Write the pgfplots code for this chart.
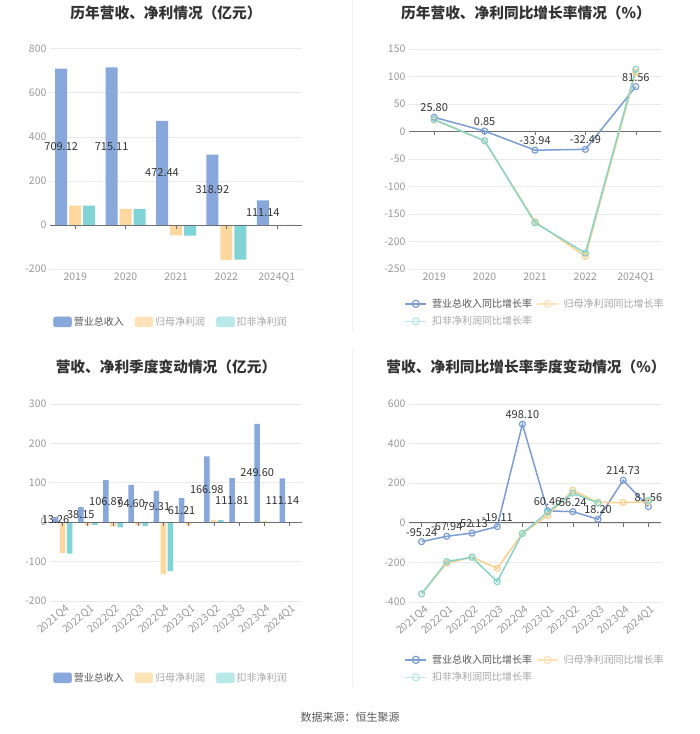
\documentclass[border=0pt]{standalone}
\usepackage{fontspec}
\setmainfont{Noto Sans CJK SC}
\usepackage{pgfplots}
\pgfplotsset{compat=1.18}
\definecolor{rev}{HTML}{88A7DA}
\definecolor{net}{HTML}{FDD89E}
\definecolor{ded}{HTML}{80D4D6}
\definecolor{revL}{HTML}{7B9CD4}
\definecolor{netL}{HTML}{F9CF8C}
\definecolor{dedL}{HTML}{86D5C8}
\definecolor{netP}{HTML}{FFE3B8}
\definecolor{dedP}{HTML}{B8E8E8}
\definecolor{tickc}{HTML}{9A9A9A}
\definecolor{gridc}{HTML}{E9E9E9}
\definecolor{zl}{HTML}{6E7079}
\definecolor{lab}{HTML}{333333}
\definecolor{legA}{HTML}{555555}
\definecolor{legB}{HTML}{A5A5A5}
\pgfplotsset{
  base/.style={
    scale only axis,
    anchor=south west,
    axis line style={draw=none},
    major tick length=0pt,
    ymajorgrids,
    grid style={gridc, line width=0.6pt},
    tick label style={font=\fontsize{10.5}{12}\selectfont, text=tickc},
    /pgf/number format/assume math mode=true,
    clip=false,
    legend cell align=left,
    legend style={draw=none, fill=none, font=\fontsize{10}{12}\selectfont},
    legend image code/.code={\draw[mark repeat=2,mark phase=2,##1] plot coordinates {(0pt,0pt) (10.5pt,0pt) (21pt,0pt)};},
  },
  barleg/.style={legend style={/tikz/every even column/.append style={column sep=9pt}}},
  lineleg/.style={legend style={row sep=3.5pt, /tikz/every even column/.append style={column sep=2pt}, /tikz/every odd column/.append style={column sep=3pt}}},
  barlab/.style={draw=none, mark=none, nodes near coords, point meta=explicit symbolic,
    every node near coord/.append style={anchor=center, font=\fontsize{11}{12}\selectfont, text=lab, xshift=#1}},
  linelab/.style={nodes near coords, point meta=explicit symbolic,
    every node near coord/.append style={anchor=south, yshift=1.5pt, font=\fontsize{11}{12}\selectfont, text=lab}},
  ln/.style={#1, line width=1.5pt, mark=o, mark size=3pt, mark options={fill=white, solid, line width=1.2pt}},
  lnleg/.style={#1, line width=1.5pt, mark=o, mark size=3.6pt, mark options={fill=white, solid, line width=1.2pt}},
}
\begin{document}
\begin{tikzpicture}
\path[use as bounding box, fill=white] (0pt,0pt) rectangle (700pt,734pt);
\draw[black!6, line width=1pt] (352pt,734pt) -- (352pt,402pt);
\draw[black!6, line width=1pt] (352pt,384pt) -- (352pt,47pt);

% ---------- top left ----------
\begin{axis}[base, barleg, at={(50pt,465pt)}, width=252pt, height=220.3pt,
  xmin=-0.5, xmax=4.5, ymin=-200, ymax=800, ytick={-200,0,200,400,600,800},
  xtick={0,1,2,3,4}, xticklabels={2019,2020,2021,2022,2024Q1},
  legend columns=3, legend style={at={(0.48,-0.24)}, anchor=center}]
\addplot[ybar, bar width=12pt, bar shift=-14pt, fill=rev, draw=none, forget plot] coordinates {(0,709.12) (1,715.11) (2,472.44) (3,318.92) (4,111.14)};
\addplot[ybar, bar width=12pt, bar shift=0pt, fill=net, draw=none, forget plot] coordinates {(0,87.6) (1,72.6) (2,-47) (3,-160) (4,0.5)};
\addplot[ybar, bar width=12pt, bar shift=14pt, fill=ded, draw=none, forget plot] coordinates {(0,88) (1,73) (2,-48) (3,-157) (4,0.3)};
\draw[zl, line width=0.8pt] (axis cs:-0.5,0) -- (axis cs:4.5,0);
\pgfplotsinvokeforeach{0,1,2,3,4}{\draw[zl, line width=0.6pt] (axis cs:#1,0) -- ++(0pt,-4pt);}
\addplot[barlab=-14pt, forget plot] coordinates {(0,354.56) [709.12] (1,357.555) [715.11] (2,236.22) [472.44] (3,159.46) [318.92] (4,55.57) [111.14]};
\addlegendimage{legend image code/.code={\fill[rev, rounded corners=2pt] (0pt,-5pt) rectangle (18pt,5pt);}}
\addlegendentry{\textcolor{legA}{营业总收入}}
\addlegendimage{legend image code/.code={\fill[netP, rounded corners=2pt] (0pt,-5pt) rectangle (18pt,5pt);}}
\addlegendentry{\textcolor{legB}{归母净利润}}
\addlegendimage{legend image code/.code={\fill[dedP, rounded corners=2pt] (0pt,-5pt) rectangle (18pt,5pt);}}
\addlegendentry{\textcolor{legB}{扣非净利润}}
\end{axis}

% ---------- top right ----------
\begin{axis}[base, lineleg, at={(409pt,465pt)}, width=252pt, height=220pt,
  xmin=-0.5, xmax=4.5, ymin=-250, ymax=150, ytick={-250,-200,...,150},
  xtick={0,1,2,3,4}, xticklabels={2019,2020,2021,2022,2024Q1},
  legend columns=2, legend style={at={(-0.03,-0.198)}, anchor=west}]
\draw[zl, line width=0.8pt] (axis cs:-0.5,0) -- (axis cs:4.5,0);
\pgfplotsinvokeforeach{0,1,2,3,4}{\draw[zl, line width=0.6pt] (axis cs:#1,0) -- ++(0pt,-4pt);}
\addplot[ln=revL, forget plot, linelab] coordinates {(0,25.80)[25.80] (1,0.85)[0.85] (2,-33.94)[-33.94] (3,-32.49)[-32.49] (4,81.56)[81.56]};
\addplot[ln=netL, forget plot] coordinates {(0,21) (1,-17) (2,-164) (3,-227) (4,108)};
\addplot[ln=dedL, forget plot] coordinates {(0,22) (1,-17) (2,-166) (3,-221) (4,113)};
\addlegendimage{lnleg=revL}
\addlegendentry{\textcolor{legA}{营业总收入同比增长率}}
\addlegendimage{lnleg=netP}
\addlegendentry{\textcolor{legB}{归母净利润同比增长率}}
\addlegendimage{lnleg=dedP}
\addlegendentry{\textcolor{legB}{扣非净利润同比增长率}}
\end{axis}

% ---------- bottom left ----------
\begin{axis}[base, barleg, at={(50pt,133pt)}, width=252pt, height=197pt,
  xmin=-0.5, xmax=9.5, ymin=-200, ymax=300, ytick={-200,-100,...,300},
  xtick={0,...,9}, xticklabels={2021Q4,2022Q1,2022Q2,2022Q3,2022Q4,2023Q1,2023Q2,2023Q3,2023Q4,2024Q1},
  xticklabel style={rotate=40, anchor=north east, xshift=3pt, yshift=0pt},
  legend columns=3, legend style={at={(0.48,-0.39)}, anchor=center}]
\addplot[ybar, bar width=5.5pt, bar shift=-7pt, fill=rev, draw=none, forget plot] coordinates {(0,13.26) (1,38.15) (2,106.87) (3,94.60) (4,79.31) (5,61.21) (6,166.98) (7,111.81) (8,249.60) (9,111.14)};
\addplot[ybar, bar width=5.5pt, bar shift=0pt, fill=net, draw=none, forget plot] coordinates {(0,-78) (1,-9) (2,-11) (3,-8) (4,-132) (5,-7) (6,6) (7,0.3) (8,3) (9,0.5)};
\addplot[ybar, bar width=5.5pt, bar shift=7pt, fill=ded, draw=none, forget plot] coordinates {(0,-80) (1,-7) (2,-13) (3,-10) (4,-124) (5,-2) (6,5) (7,0.2) (8,1) (9,0.3)};
\draw[zl, line width=0.8pt] (axis cs:-0.5,0) -- (axis cs:9.5,0);
\pgfplotsinvokeforeach{0,1,2,3,4,5,6,7,8,9}{\draw[zl, line width=0.6pt] (axis cs:#1,0) -- ++(0pt,-4pt);}
\addplot[barlab=-7pt, forget plot] coordinates {(0,6.63)[13.26] (1,19.075)[38.15] (2,53.435)[106.87] (3,47.3)[94.60] (4,39.655)[79.31] (5,30.605)[61.21] (6,83.49)[166.98] (7,55.905)[111.81] (8,124.8)[249.60] (9,55.57)[111.14]};
\addlegendimage{legend image code/.code={\fill[rev, rounded corners=2pt] (0pt,-5pt) rectangle (18pt,5pt);}}
\addlegendentry{\textcolor{legA}{营业总收入}}
\addlegendimage{legend image code/.code={\fill[netP, rounded corners=2pt] (0pt,-5pt) rectangle (18pt,5pt);}}
\addlegendentry{\textcolor{legB}{归母净利润}}
\addlegendimage{legend image code/.code={\fill[dedP, rounded corners=2pt] (0pt,-5pt) rectangle (18pt,5pt);}}
\addlegendentry{\textcolor{legB}{扣非净利润}}
\end{axis}

% ---------- bottom right ----------
\begin{axis}[base, lineleg, at={(409pt,132pt)}, width=252pt, height=198pt,
  xmin=-0.5, xmax=9.5, ymin=-400, ymax=600, ytick={-400,-200,...,600},
  xtick={0,...,9}, xticklabels={2021Q4,2022Q1,2022Q2,2022Q3,2022Q4,2023Q1,2023Q2,2023Q3,2023Q4,2024Q1},
  xticklabel style={rotate=40, anchor=north east, xshift=3pt, yshift=0pt},
  unbounded coords=jump,
  legend columns=2, legend style={at={(-0.03,-0.336)}, anchor=west}]
\draw[zl, line width=0.8pt] (axis cs:-0.5,0) -- (axis cs:9.5,0);
\pgfplotsinvokeforeach{0,1,2,3,4,5,6,7,8,9}{\draw[zl, line width=0.6pt] (axis cs:#1,0) -- ++(0pt,-4pt);}
\addplot[ln=revL, forget plot, linelab] coordinates {(0,-95.24)[-95.24] (1,-67.94)[-67.94] (2,-52.13)[-52.13] (3,-19.11)[-19.11] (4,498.10)[498.10] (5,60.46)[60.46] (6,56.24)[56.24] (7,18.20)[18.20] (8,214.73)[214.73] (9,81.56)[81.56]};
\addplot[ln=netL, forget plot] coordinates {(0,-359) (1,-204) (2,-174) (3,-230) (4,-54) (5,37) (6,164) (7,103) (8,102) (9,106)};
\addplot[ln=dedL, forget plot] coordinates {(0,-359) (1,-196) (2,-174) (3,-297) (4,-54) (5,54) (6,150) (7,100) (8,nan) (9,113)};
\addlegendimage{lnleg=revL}
\addlegendentry{\textcolor{legA}{营业总收入同比增长率}}
\addlegendimage{lnleg=netP}
\addlegendentry{\textcolor{legB}{归母净利润同比增长率}}
\addlegendimage{lnleg=dedP}
\addlegendentry{\textcolor{legB}{扣非净利润同比增长率}}
\end{axis}

% ---------- titles ----------
\node[font=\bfseries\fontsize{14.7}{16}\selectfont, text=black!80] at (166pt,721pt) {历年营收、净利情况（亿元）};
\node[font=\bfseries\fontsize{14.7}{16}\selectfont, text=black!80] at (526pt,721pt) {历年营收、净利同比增长率情况（\%）};
\node[font=\bfseries\fontsize{14.7}{16}\selectfont, text=black!80] at (166pt,367pt) {营收、净利季度变动情况（亿元）};
\node[font=\bfseries\fontsize{14.7}{16}\selectfont, text=black!80] at (526pt,367pt) {营收、净利同比增长率季度变动情况（\%）};
\node[font=\fontsize{11}{13}\selectfont, text=black!65] at (350pt,17pt) {数据来源：恒生聚源};
\end{tikzpicture}
\end{document}
